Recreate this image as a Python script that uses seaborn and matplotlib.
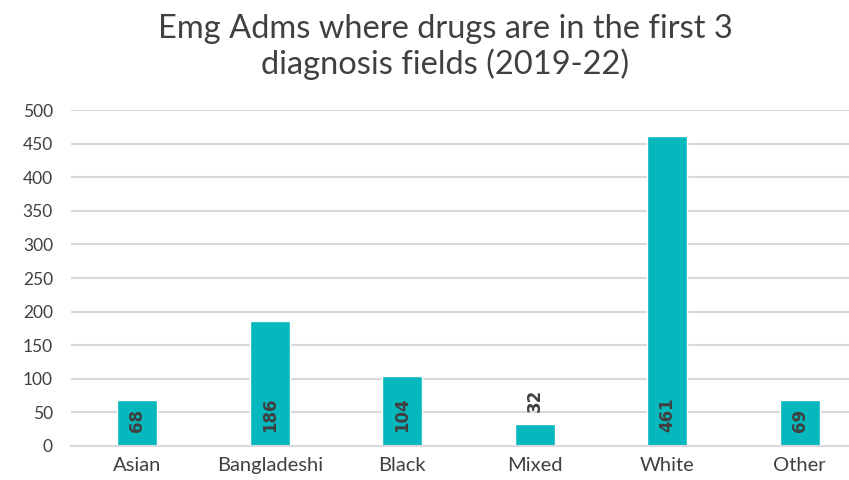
import matplotlib
matplotlib.use("Agg")
import matplotlib.pyplot as plt
import seaborn as sns
import pandas as pd

# Emergency admissions by ethnic group
categories = ["Asian", "Bangladeshi", "Black", "Mixed", "White", "Other"]
admissions = [68, 186, 104, 32, 461, 69]
y_ticks = [0, 50, 100, 150, 200, 250, 300, 350, 400, 450, 500]

df = pd.DataFrame({"group": categories, "admissions": admissions})

sns.set_theme(style="white")
plt.rcParams["font.family"] = ["Lato", "DejaVu Sans"]

bar_color = "#05B8BD"
text_color = "#404040"
grid_color = "#D9D9D9"

fig = plt.figure(figsize=(8.49, 4.80), dpi=100)
ax = fig.add_axes([71 / 849, 1 - 446 / 480, 795 / 849, 336 / 480])

sns.barplot(data=df, x="group", y="admissions", color=bar_color,
            width=0.30, saturation=1, ax=ax, zorder=3)

ax.set_ylim(0, 500)
ax.set_yticks(y_ticks)
ax.set_xlim(-0.5, len(categories) - 0.5)
ax.yaxis.grid(True, color=grid_color, linewidth=1.5, zorder=0)
ax.xaxis.grid(False)
for side in ["top", "right", "left"]:
    ax.spines[side].set_visible(False)
ax.spines["bottom"].set_color(grid_color)
ax.spines["bottom"].set_linewidth(1.5)
ax.spines["bottom"].set_zorder(4)

ax.tick_params(axis="y", length=0, pad=13, labelsize=12.5, labelcolor=text_color)
ax.tick_params(axis="x", length=0, pad=8, labelsize=14.5, labelcolor=text_color)
ax.set_xlabel("")
ax.set_ylabel("")

# Value labels: inside near the base, or above the bar when it is too short
px = 500 / 336  # data units per pixel
for i, v in enumerate(admissions):
    if v < 40:
        y = v + 12 * px
    else:
        y = 14 * px
    ax.text(i, y, str(v), rotation=90, ha="center", va="bottom",
            fontsize=12, fontweight="bold", color=text_color, zorder=5,
            family=["DejaVu Sans"])

fig.text(445 / 849, 1 - 47 / 480,
         "Emg Adms where drugs are in the first 3\ndiagnosis fields (2019-22)",
         ha="center", va="center", fontsize=23.5, color=text_color,
         fontweight="normal", linespacing=1.2)

fig.savefig("out.png", dpi=100)
